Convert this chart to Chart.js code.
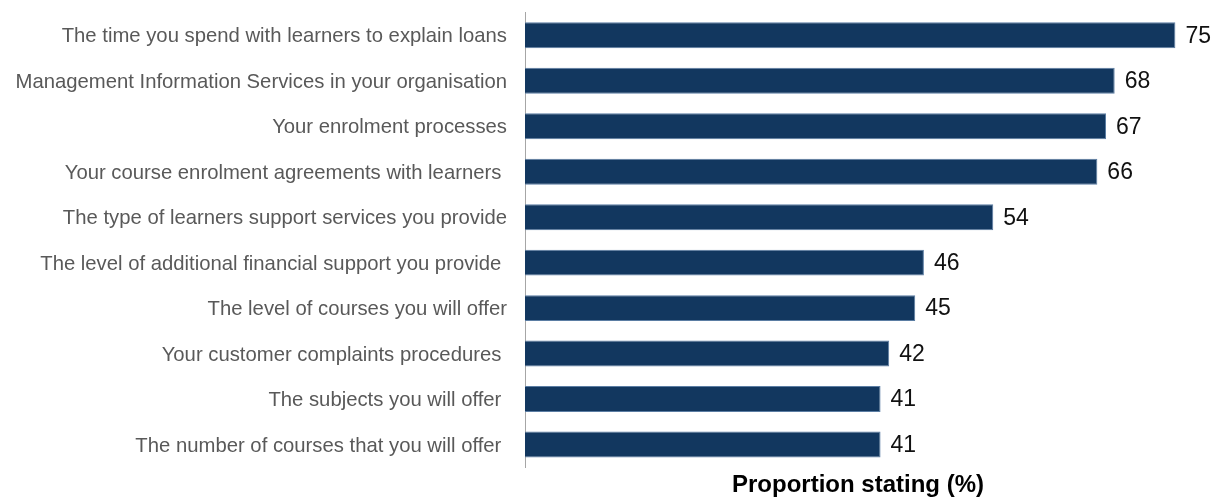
<!DOCTYPE html>
<html>
<head>
<meta charset="utf-8">
<script src="https://cdn.jsdelivr.net/npm/chart.js@4.4.1/dist/chart.umd.min.js"></script>
<style>
  html, body { margin: 0; padding: 0; background: #fff; }
  #wrap { width: 1213px; height: 498px; }
</style>
</head>
<body>
<div id="wrap"><canvas id="barchart"></canvas></div>
<script>
'use strict';

// survey items, top to bottom
var categories = [
    "The time you spend with learners to explain loans",
    "Management Information Services in your organisation",
    "Your enrolment processes",
    "Your course enrolment agreements with learners ",
    "The type of learners support services you provide",
    "The level of additional financial support you provide ",
    "The level of courses you will offer",
    "Your customer complaints procedures ",
    "The subjects you will offer ",
    "The number of courses that you will offer "
];
var proportions = [75, 68, 67, 66, 54, 46, 45, 42, 41, 41];
var axisTitle = "Proportion stating (%)";

// writes the value just past the end of each bar
var valueLabels = {
    id: 'valueLabels',
    afterDatasetsDraw: function (chart) {
        var ctx = chart.ctx;
        var meta = chart.getDatasetMeta(0);
        ctx.save();
        ctx.font = '23px "Liberation Sans", Arial, sans-serif';
        ctx.fillStyle = '#111111';
        ctx.textAlign = 'left';
        ctx.textBaseline = 'middle';
        meta.data.forEach(function (bar, i) {
            ctx.fillText(String(proportions[i]), bar.x + 10, bar.y + 1);
        });
        ctx.restore();
    }
};

new Chart(document.getElementById('barchart'), {
    type: 'bar',
    data: {
        labels: categories,
        datasets: [{
            data: proportions,
            backgroundColor: '#12375f',
            borderColor: '#5b7da3',
            borderWidth: 1,
            barPercentage: 0.57,
            categoryPercentage: 1
        }]
    },
    plugins: [valueLabels],
    options: {
        indexAxis: 'y',
        responsive: true,
        maintainAspectRatio: false,
        animation: false,
        layout: {
            padding: { top: 12.6, right: 22, bottom: 0, left: 0 }
        },
        plugins: {
            legend: { display: false },
            tooltip: { enabled: false }
        },
        scales: {
            x: {
                min: 0,
                max: 76.8,
                grid: { display: false, drawTicks: false },
                border: { display: false },
                ticks: { display: false },
                title: {
                    display: true,
                    text: axisTitle,
                    color: '#000000',
                    font: { family: '"Liberation Sans", Arial, sans-serif', size: 24, weight: 'bold' },
                    padding: { top: 4, bottom: -2 }
                }
            },
            y: {
                grid: { display: false, drawTicks: false },
                border: { display: true, color: '#a6a6a6', width: 1 },
                ticks: {
                    color: '#595959',
                    padding: 18,
                    labelOffset: 1.5,
                    font: { family: '"Liberation Sans", Arial, sans-serif', size: 20.3 }
                },
                afterFit: function (scale) {
                    // fixed label column, no extra room above/below for tick text
                    scale.width = 525;
                    scale.paddingTop = 0;
                    scale.paddingBottom = 0;
                }
            }
        }
    }
});
</script>
</body>
</html>
